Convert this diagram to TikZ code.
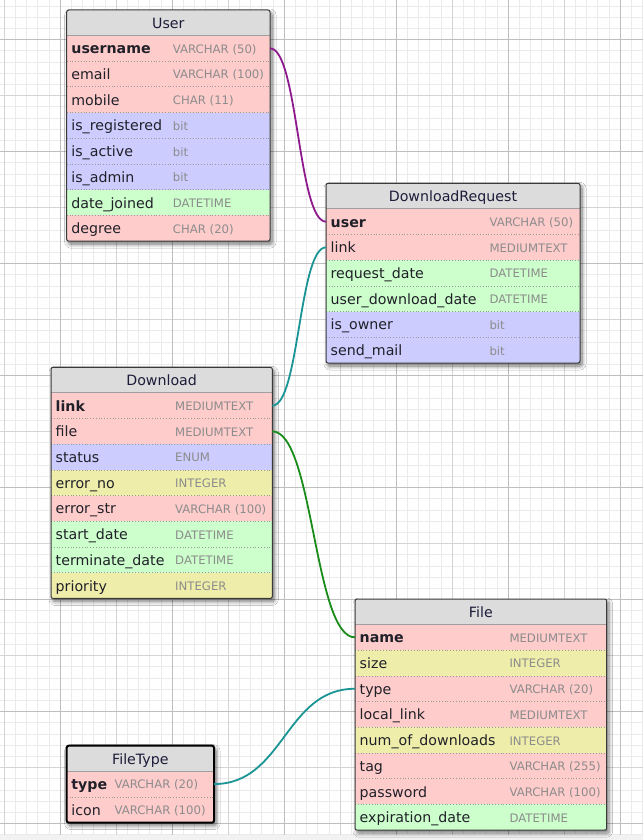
\documentclass[tikz,border=0pt]{standalone}
\usepackage{fontspec}
\setmainfont{DejaVu Sans}
\usetikzlibrary{shadows.blur}

\definecolor{rowred}{HTML}{FFCCCC}
\definecolor{rowblue}{HTML}{CCCCFF}
\definecolor{rowgreen}{HTML}{CCFFCC}
\definecolor{rowyellow}{HTML}{EEEEAA}
\definecolor{hdrgray}{HTML}{DCDCDC}
\definecolor{typegray}{HTML}{8C8C8C}
\definecolor{txtdark}{HTML}{202028}
\definecolor{hdrtxt}{HTML}{1C1C3A}
\definecolor{gridminor}{HTML}{EBEBEB}
\definecolor{gridmid}{HTML}{D4D4D4}
\definecolor{gridmajor}{HTML}{BEBEBE}
\definecolor{linkpurple}{HTML}{8E1A8E}
\definecolor{linkteal}{HTML}{1A9494}
\definecolor{linkgreen}{HTML}{1A8C1A}
\definecolor{bordergray}{HTML}{3A3A3A}

\newcommand\namefont{\fontsize{14.2}{16}\selectfont}
\newcommand\typefont{\fontsize{11.7}{13}\selectfont}

\tikzset{
  minorline/.style={gridminor, line width=1pt},
  midline/.style={gridmid, line width=1pt},
  majorline/.style={gridmajor, line width=1pt},
  tblshadow/.style={blur shadow={shadow xshift=2pt, shadow yshift=-3pt, shadow blur radius=4pt, shadow blur steps=8, shadow opacity=55}},
  rowbox/.style={rectangle, inner sep=0pt, outer sep=0pt, anchor=north west, minimum height=25.7pt},
  fieldtext/.style={inner sep=0pt, anchor=base west, text=txtdark, font=\namefont},
  typetext/.style={inner sep=0pt, anchor=base west, text=typegray, font=\typefont},
  hdrtext/.style={inner sep=0pt, anchor=base, text=hdrtxt, font=\namefont},
  tblborder/.style={draw=bordergray, line width=1pt},
  selborder/.style={draw=black, line width=2pt},
  hdrline/.style={draw=gray!75, line width=1pt},
  sepline/.style={draw=gray!80, line width=0.8pt, dotted},
  conn/.style={line width=1.8pt},
}

% #1 id, #2 x, #3 y, #4 width, #5 type offset, #6 nrows, #7 title, #8 rows, #9 border style
\newcommand\ertable[9]{%
  \pgfmathsetmacro\tbot{#3+25.5+#6*25.7}%
  \path[tblshadow, fill=white, rounded corners=2pt] ({#2},{#3}) rectangle ({#2+#4},{\tbot});
  \begin{scope}
    \clip[rounded corners=2pt] ({#2},{#3}) rectangle ({#2+#4},{\tbot});
    \fill[hdrgray] ({#2},{#3}) rectangle ({#2+#4},{#3+25.5});
    \foreach \fn/\ft/\fc/\fw [count=\i] in {#8} {
      \node[rowbox, fill=\fc, minimum width=#4 pt] (#1-\i) at ({#2},{#3+25.5+(\i-1)*25.7}) {};
    }
  \end{scope}
  \foreach \fn/\ft/\fc/\fw [count=\i] in {#8} {
    \node[fieldtext, font=\namefont\fw] (#1-\i-n) at ({#2+4.5},{#3+25.5+(\i-1)*25.7+18.3}) {\fn};
    \node[typetext] (#1-\i-t) at ({#2+#5},{#3+25.5+(\i-1)*25.7+17.7}) {\ft};
    \ifnum\i>1
      \draw[sepline] ({#2},{#3+25.5+(\i-1)*25.7}) -- ++(#4,0);
    \fi
  }
  \draw[hdrline] ({#2},{#3+25.5}) -- ++(#4,0);
  \node[hdrtext] (#1-h) at ({#2+#4/2},{#3+18.3}) {#7};
  \draw[#9, rounded corners=2pt] ({#2},{#3}) rectangle ({#2+#4},{\tbot});
}

\begin{document}
\begin{tikzpicture}[x=1pt, y=-1pt]
\useasboundingbox (0,0) rectangle (643,840);
\fill[white] (0,0) rectangle (643,840);

% grid
\foreach \k in {0,...,57} { \draw[minorline] ({4.3+11.2*\k},0) -- ({4.3+11.2*\k},835); }
\foreach \k in {0,...,74} { \draw[minorline] (0,{6.1+11.2*\k}) -- (643,{6.1+11.2*\k}); }
\foreach \k in {0,...,5} { \draw[midline] ({4.3+112*\k},0) -- ({4.3+112*\k},835); }
\foreach \k in {0,...,6} { \draw[midline] (0,{95.7+112*\k}) -- (643,{95.7+112*\k}); }
\foreach \k in {0,...,5} { \draw[majorline] ({60.3+112*\k},0) -- ({60.3+112*\k},835); }
\foreach \k in {0,...,7} { \draw[majorline] (0,{39.7+112*\k}) -- (643,{39.7+112*\k}); }
\fill[black!5] (0,835) rectangle (643,840);

\ertable{User}{66.7}{10}{203.3}{106}{8}{User}{%
  username/VARCHAR (50)/rowred/\bfseries,
  email/VARCHAR (100)/rowred/\mdseries,
  mobile/CHAR (11)/rowred/\mdseries,
  is\_registered/bit/rowblue/\mdseries,
  is\_active/bit/rowblue/\mdseries,
  is\_admin/bit/rowblue/\mdseries,
  date\_joined/DATETIME/rowgreen/\mdseries,
  degree/CHAR (20)/rowred/\mdseries}{tblborder}

\ertable{DR}{326}{183.3}{254}{163.3}{6}{DownloadRequest}{%
  user/VARCHAR (50)/rowred/\bfseries,
  link/MEDIUMTEXT/rowred/\mdseries,
  request\_date/DATETIME/rowgreen/\mdseries,
  user\_download\_date/DATETIME/rowgreen/\mdseries,
  is\_owner/bit/rowblue/\mdseries,
  send\_mail/bit/rowblue/\mdseries}{tblborder}

\ertable{Download}{51}{367.3}{221.3}{124}{8}{Download}{%
  link/MEDIUMTEXT/rowred/\bfseries,
  file/MEDIUMTEXT/rowred/\mdseries,
  status/ENUM/rowblue/\mdseries,
  error\_no/INTEGER/rowyellow/\mdseries,
  error\_str/VARCHAR (100)/rowred/\mdseries,
  start\_date/DATETIME/rowgreen/\mdseries,
  terminate\_date/DATETIME/rowgreen/\mdseries,
  priority/INTEGER/rowyellow/\mdseries}{tblborder}

\ertable{File}{355}{599}{251.7}{154.3}{8}{File}{%
  name/MEDIUMTEXT/rowred/\bfseries,
  size/INTEGER/rowyellow/\mdseries,
  type/VARCHAR (20)/rowred/\mdseries,
  local\_link/MEDIUMTEXT/rowred/\mdseries,
  num\_of\_downloads/INTEGER/rowyellow/\mdseries,
  tag/VARCHAR (255)/rowred/\mdseries,
  password/VARCHAR (100)/rowred/\mdseries,
  expiration\_date/DATETIME/rowgreen/\mdseries}{tblborder}

\ertable{FileType}{66.7}{745.7}{147.3}{47.6}{2}{FileType}{%
  type/VARCHAR (20)/rowred/\bfseries,
  icon/VARCHAR (100)/rowred/\mdseries}{selborder}

% relations
\draw[conn, linkpurple] (User-1.east) .. controls +(28,0) and +(-28,0) .. (DR-1.west);
\draw[conn, linkteal] (Download-1.east) .. controls +(27,0) and +(-27,0) .. (DR-2.west);
\draw[conn, linkgreen] (Download-2.east) .. controls +(41,0) and +(-41,0) .. (File-1.west);
\draw[conn, linkteal] (FileType-1.east) .. controls +(70,0) and +(-70,0) .. (File-3.west);
\end{tikzpicture}
\end{document}
